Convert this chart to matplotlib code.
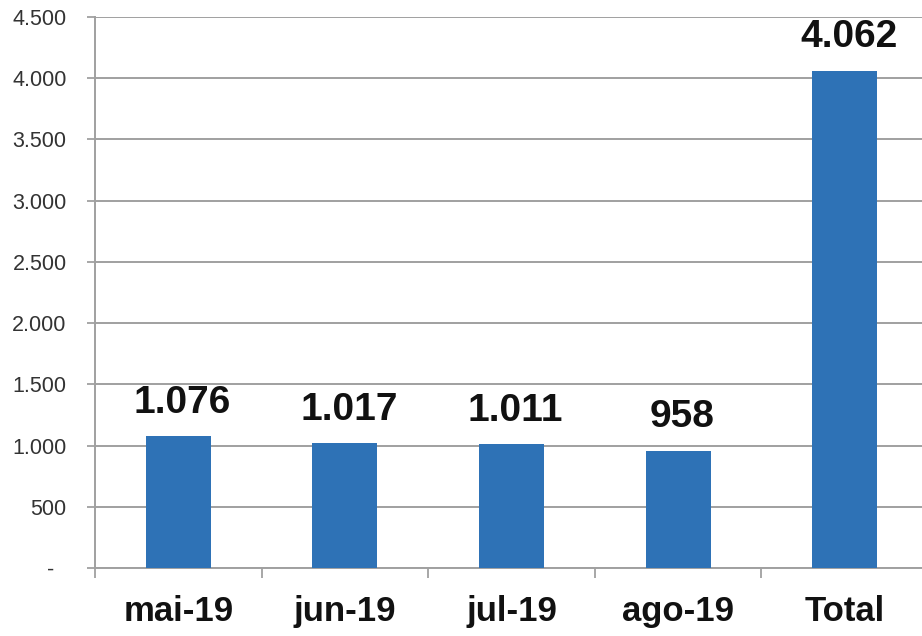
import matplotlib
matplotlib.use("Agg")
import matplotlib.pyplot as plt
from matplotlib.ticker import FixedLocator, FuncFormatter

categories = ["mai-19", "jun-19", "jul-19", "ago-19", "Total"]
values = [1076, 1017, 1011, 958, 4062]
yticks = [0, 500, 1000, 1500, 2000, 2500, 3000, 3500, 4000, 4500]

def fmt_thousands(v):
    return f"{int(v):,}".replace(",", ".")

fig = plt.figure(figsize=(9.22, 6.36), dpi=100)
ax = fig.add_axes([95/922, 68/636, 833/922, 551/636])

x = list(range(len(categories)))
bar_color = "#2E72B6"
ax.bar(x, values, width=0.39, color=bar_color, zorder=3)

ax.set_xlim(-0.5, len(categories) - 0.5)
ax.set_ylim(0, 4500)

ax.set_yticks(yticks)
ax.yaxis.set_major_formatter(FuncFormatter(lambda v, p: "-  " if v == 0 else fmt_thousands(v)))
ax.tick_params(axis="y", length=6, width=1.3, color="#A0A0A0", pad=14.5,
               labelsize=15.5, labelcolor="#333333")
for lbl in ax.get_yticklabels():
    lbl.set_family("Liberation Sans")

ax.grid(axis="y", color="#A0A0A0", linewidth=1.4, zorder=0)

ax.set_xticks(x)
ax.set_xticklabels(categories, fontsize=25, fontweight="bold", family="Liberation Sans")
ax.tick_params(axis="x", length=0, pad=19.5, labelcolor="#111111")
ax.xaxis.set_minor_locator(FixedLocator([i - 0.5 for i in range(len(categories) + 1)]))
ax.tick_params(axis="x", which="minor", length=7.5, width=1.3, color="#A0A0A0")

for s in ["top", "right"]:
    ax.spines[s].set_visible(False)
for s in ["left", "bottom"]:
    ax.spines[s].set_color("#A0A0A0")
    ax.spines[s].set_linewidth(1.4)

for xi, v in zip(x, values):
    ax.annotate(fmt_thousands(v), (xi, v), xytext=(3, 11), textcoords="offset points",
                ha="center", va="bottom", fontsize=28, fontweight="bold",
                family="Liberation Sans", color="#111111")

fig.savefig("out.png", dpi=100)
